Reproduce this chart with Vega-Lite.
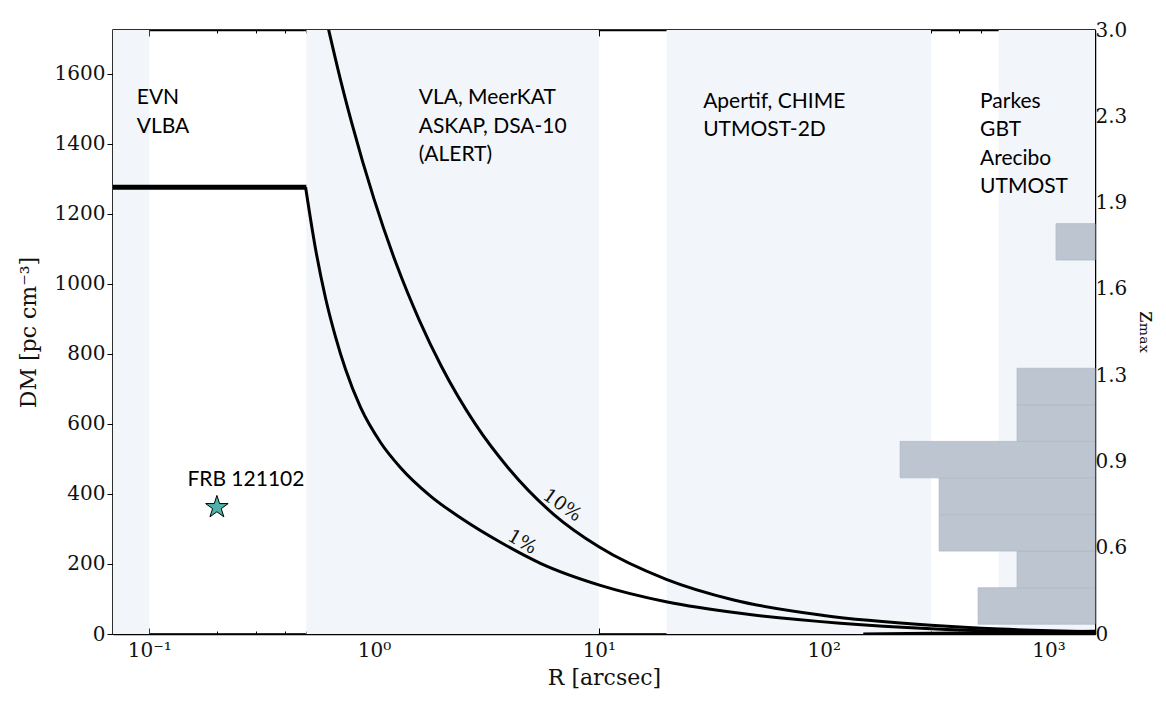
{
  "$schema": "https://vega.github.io/schema/vega-lite/v6.json",
  "width": 982,
  "height": 604,
  "autosize": {"type": "none"},
  "padding": {"left": 113, "top": 30, "right": 71, "bottom": 69},
  "background": "white",
  "config": {
    "view": {"stroke": "black", "strokeWidth": 1.5},
    "axis": {
      "domainColor": "black",
      "domainWidth": 1.5,
      "tickColor": "black",
      "labelColor": "#111",
      "labelFont": "DejaVu Serif",
      "labelFontSize": 20,
      "titleFont": "DejaVu Serif",
      "titleFontSize": 22,
      "titleFontWeight": "normal",
      "titleColor": "#111",
      "grid": false,
      "zindex": 1
    }
  },
  "datasets": {
    "bands": [
      {"r0": 0.069, "r1": 0.1},
      {"r0": 0.5, "r1": 10},
      {"r0": 20, "r1": 300},
      {"r0": 600, "r1": 1610}
    ],
    "curves": [
      {"series": "1%", "R": 0.496, "DM": 1276},
      {"series": "1%", "R": 0.5495, "DM": 1099},
      {"series": "1%", "R": 0.6087, "DM": 959},
      {"series": "1%", "R": 0.6744, "DM": 848},
      {"series": "1%", "R": 0.7467, "DM": 756},
      {"series": "1%", "R": 0.871, "DM": 647},
      {"series": "1%", "R": 1.069, "DM": 547},
      {"series": "1%", "R": 1.312, "DM": 475},
      {"series": "1%", "R": 1.783, "DM": 394},
      {"series": "1%", "R": 2.424, "DM": 332},
      {"series": "1%", "R": 3.649, "DM": 262},
      {"series": "1%", "R": 5.495, "DM": 202},
      {"series": "1%", "R": 10.155, "DM": 139},
      {"series": "1%", "R": 20.16, "DM": 91.5},
      {"series": "1%", "R": 42.55, "DM": 59},
      {"series": "1%", "R": 118.4, "DM": 31},
      {"series": "1%", "R": 300.5, "DM": 15.2},
      {"series": "1%", "R": 608.6, "DM": 8.3},
      {"series": "1%", "R": 1609, "DM": 4.3},
      {"series": "10%", "R": 0.628, "DM": 1726},
      {"series": "10%", "R": 0.708, "DM": 1585},
      {"series": "10%", "R": 0.794, "DM": 1462},
      {"series": "10%", "R": 1.0, "DM": 1242},
      {"series": "10%", "R": 1.259, "DM": 1055},
      {"series": "10%", "R": 1.585, "DM": 898},
      {"series": "10%", "R": 1.995, "DM": 764},
      {"series": "10%", "R": 2.818, "DM": 600},
      {"series": "10%", "R": 3.98, "DM": 472},
      {"series": "10%", "R": 6.31, "DM": 341},
      {"series": "10%", "R": 10, "DM": 249},
      {"series": "10%", "R": 19.95, "DM": 156},
      {"series": "10%", "R": 39.8, "DM": 97},
      {"series": "10%", "R": 100, "DM": 53},
      {"series": "10%", "R": 300, "DM": 25},
      {"series": "10%", "R": 608, "DM": 14},
      {"series": "10%", "R": 1610, "DM": 6.5}
    ],
    "thick": [
      {"seg": "top", "R": 0.069, "DM": 1276},
      {"seg": "top", "R": 0.5, "DM": 1276},
      {"seg": "bottom", "R": 150, "DM": -3},
      {"seg": "bottom", "R": 1610, "DM": 5}
    ],
    "labels": [
      {"R": 0.088, "DM": 1562, "text": "EVN\nVLBA"},
      {"R": 1.58, "DM": 1562, "text": "VLA, MeerKAT\nASKAP, DSA-10\n(ALERT)"},
      {"R": 29.1, "DM": 1552, "text": "Apertif, CHIME\nUTMOST-2D"},
      {"R": 496, "DM": 1552, "text": "Parkes\nGBT\nArecibo\nUTMOST"}
    ],
    "frb": [{"R": 0.2, "DM": 362, "name": "FRB 121102"}],
    "curvelabels": [
      {"R": 6.88, "DM": 368, "text": "10%", "angle": 35},
      {"R": 4.57, "DM": 263, "text": "1%", "angle": 30}
    ],
    "hist": [
      {"lo": 28, "hi": 132, "n": 3},
      {"lo": 132, "hi": 237, "n": 2},
      {"lo": 237, "hi": 341, "n": 4},
      {"lo": 341, "hi": 446, "n": 4},
      {"lo": 446, "hi": 550, "n": 5},
      {"lo": 550, "hi": 654, "n": 2},
      {"lo": 654, "hi": 759, "n": 2},
      {"lo": 1068, "hi": 1172, "n": 1}
    ],
    "zticks": [
      {"pos": 0, "z": "0"}, {"pos": 1, "z": "0.6"}, {"pos": 2, "z": "0.9"}, {"pos": 3, "z": "1.3"},
      {"pos": 4, "z": "1.6"}, {"pos": 5, "z": "1.9"}, {"pos": 6, "z": "2.3"}, {"pos": 7, "z": "3.0"}
    ]
  },
  "layer": [
    {
      "layer": [
        {
          "layer": [
            {
              "data": {"name": "bands"},
              "mark": {"type": "rect", "color": "#f2f6fa"},
              "encoding": {
                "x": {
                  "field": "r0", "type": "quantitative",
                  "scale": {"type": "log", "domain": [0.069, 1610], "nice": false},
                  "axis": {
                    "title": "R [arcsec]",
                    "titlePadding": 4,
                    "values": [0.08,0.09,0.1,0.2,0.3,0.4,0.5,0.6,0.7,0.8,0.9,1,2,3,4,5,6,7,8,9,10,20,30,40,50,60,70,80,90,100,200,300,400,500,600,700,800,900,1000],
                    "labelExpr": "datum.value == 0.1 ? '10⁻¹' : datum.value == 1 ? '10⁰' : datum.value == 10 ? '10¹' : datum.value == 100 ? '10²' : datum.value == 1000 ? '10³' : ''",
                    "tickSize": {"condition": {"test": "datum.value == 0.1 || datum.value == 1 || datum.value == 10 || datum.value == 100 || datum.value == 1000", "value": -6}, "value": -3},
                    "labelPadding": 12,
                    "labelFlush": false,
                    "labelOverlap": false
                  }
                },
                "x2": {"field": "r1"},
                "y": {"datum": 0, "type": "quantitative",
                  "scale": {"domain": [0, 1725], "nice": false, "zero": false},
                  "axis": {
                    "title": "DM [pc cm⁻³]",
                    "titlePadding": 14,
                    "values": [0,100,200,300,400,500,600,700,800,900,1000,1100,1200,1300,1400,1500,1600,1700],
                    "labelExpr": "datum.value % 200 == 0 ? datum.label : ''",
                    "format": "d",
                    "tickSize": {"condition": {"test": "datum.value % 200 == 0", "value": 6}, "value": 3},
                    "labelPadding": 2,
                    "labelOverlap": false
                  }
                },
                "y2": {"datum": 1725}
              }
            },
            {
              "data": {"name": "bands"},
              "mark": {"type": "tick", "opacity": 0},
              "encoding": {
                "x": {
                  "field": "r0", "type": "quantitative",
                  "axis": {
                    "orient": "top",
                    "title": null,
                    "labels": false,
                    "values": [0.08,0.09,0.1,0.2,0.3,0.4,0.5,0.6,0.7,0.8,0.9,1,2,3,4,5,6,7,8,9,10,20,30,40,50,60,70,80,90,100,200,300,400,500,600,700,800,900,1000],
                    "tickSize": {"condition": {"test": "datum.value == 0.1 || datum.value == 1 || datum.value == 10 || datum.value == 100 || datum.value == 1000", "value": -6}, "value": -3}
                  }
                }
              }
            },
            {
              "data": {"name": "thick"},
              "mark": {"type": "line", "color": "black", "strokeWidth": 5, "clip": true},
              "encoding": {
                "x": {"field": "R", "type": "quantitative", "axis": null},
                "y": {"field": "DM", "type": "quantitative"},
                "detail": {"field": "seg"}
              }
            },
            {
              "data": {"name": "curves"},
              "mark": {"type": "line", "color": "black", "strokeWidth": 3, "interpolate": "monotone", "clip": true},
              "encoding": {
                "x": {"field": "R", "type": "quantitative", "axis": null},
                "y": {"field": "DM", "type": "quantitative"},
                "detail": {"field": "series"}
              }
            },
            {
              "data": {"name": "curvelabels"},
              "mark": {"type": "text", "font": "DejaVu Serif", "fontSize": 19, "color": "#111"},
              "encoding": {
                "x": {"field": "R", "type": "quantitative", "axis": null},
                "y": {"field": "DM", "type": "quantitative"},
                "text": {"field": "text"},
                "angle": {"field": "angle", "type": "quantitative", "scale": null}
              }
            },
            {
              "data": {"name": "labels"},
              "mark": {"type": "text", "font": "Lato", "fontSize": 21, "align": "left", "baseline": "top", "lineBreak": "\n", "lineHeight": 28.5, "color": "black"},
              "encoding": {
                "x": {"field": "R", "type": "quantitative", "axis": null},
                "y": {"field": "DM", "type": "quantitative"},
                "text": {"field": "text"}
              }
            },
            {
              "data": {"name": "frb"},
              "mark": {"type": "point", "shape": "M0,-1L0.2245,-0.309L0.9511,-0.309L0.3633,0.118L0.5878,0.809L0,0.382L-0.5878,0.809L-0.3633,0.118L-0.9511,-0.309L-0.2245,-0.309Z", "size": 560, "filled": true, "fill": "#4db3a8", "stroke": "black", "strokeWidth": 1, "opacity": 1},
              "encoding": {
                "x": {"field": "R", "type": "quantitative", "axis": null},
                "y": {"field": "DM", "type": "quantitative"}
              }
            },
            {
              "data": {"name": "frb"},
              "mark": {"type": "text", "font": "Lato", "fontSize": 21, "align": "center", "baseline": "middle", "dx": 29, "dy": -27, "color": "black"},
              "encoding": {
                "x": {"field": "R", "type": "quantitative", "axis": null},
                "y": {"field": "DM", "type": "quantitative"},
                "text": {"field": "name"}
              }
            }
          ],
          "resolve": {"axis": {"x": "independent"}}
        },
        {
          "data": {"name": "hist"},
          "mark": {"type": "rect", "fill": "#bdc5d0", "stroke": "#aebac8", "strokeWidth": 0.8},
          "encoding": {
            "x": {"field": "n", "type": "quantitative", "scale": {"domain": [0, 25.2], "reverse": true, "nice": false, "zero": false}, "axis": null},
            "x2": {"datum": 0},
            "y": {"field": "lo", "type": "quantitative"},
            "y2": {"field": "hi"}
          }
        }
      ],
      "resolve": {"scale": {"x": "independent"}}
    },
    {
      "data": {"name": "zticks"},
      "mark": {"type": "point", "opacity": 0},
      "encoding": {
        "y": {
          "field": "pos", "type": "quantitative",
          "scale": {"domain": [0, 7], "nice": false},
          "axis": {
            "orient": "right",
            "title": "zₘₐₓ",
            "titlePadding": 8,
            "values": [0,1,2,3,4,5,6,7],
            "labelExpr": "['0','0.6','0.9','1.3','1.6','1.9','2.3','3.0'][datum.value]",
            "tickSize": -6,
            "labelPadding": 6,
            "labelFlush": false,
            "labelOverlap": false
          }
        }
      }
    }
  ],
  "resolve": {"scale": {"y": "independent", "x": "independent"}}
}
